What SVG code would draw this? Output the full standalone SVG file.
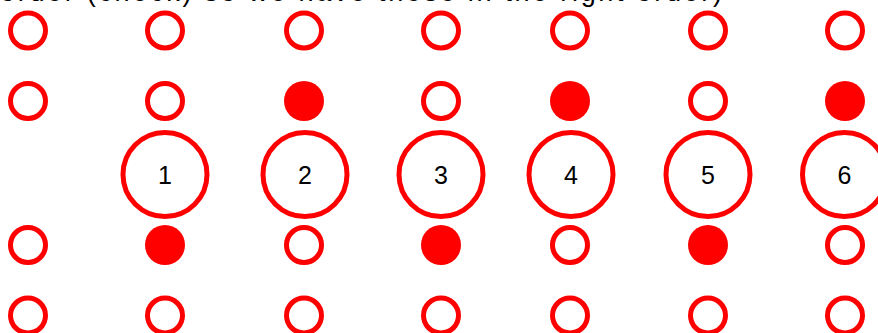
<svg xmlns="http://www.w3.org/2000/svg" width="878" height="333" viewBox="0 0 878 333">
<style>
.o{fill:#fff;stroke:#ff0000;stroke-width:5}
.f{fill:#ff0000}
.b{fill:#fff;stroke:#ff0000;stroke-width:5}
.n{font-family:"Liberation Sans",Arial,sans-serif;font-size:25px;fill:#000;text-anchor:middle}
.h{font-family:"Liberation Sans",Arial,sans-serif;font-size:27px;fill:#000}
</style>
<rect width="878" height="333" fill="#fff"/>
<text class="h" x="0" y="1" textLength="722" lengthAdjust="spacing">order (check) so we have these in the right order)</text>
<g id="row1">
<circle class="o" cx="28" cy="30.5" r="17.5"/>
<circle class="o" cx="165" cy="30.5" r="17.5"/>
<circle class="o" cx="304" cy="30.5" r="17.5"/>
<circle class="o" cx="441" cy="30.5" r="17.5"/>
<circle class="o" cx="570" cy="30.5" r="17.5"/>
<circle class="o" cx="708" cy="30.5" r="17.5"/>
<circle class="o" cx="845" cy="30.5" r="17.5"/>
</g>
<g id="row2">
<circle class="o" cx="28" cy="101" r="17.5"/>
<circle class="o" cx="165" cy="101" r="17.5"/>
<circle class="f" cx="304" cy="101" r="20"/>
<circle class="o" cx="441" cy="101" r="17.5"/>
<circle class="f" cx="570" cy="101" r="20"/>
<circle class="o" cx="708" cy="101" r="17.5"/>
<circle class="f" cx="845" cy="101" r="20"/>
</g>
<g id="node1"><circle class="b" cx="165" cy="174.5" r="42"/><text class="n" x="165" y="183.5">1</text></g>
<g id="node2"><circle class="b" cx="305" cy="174.5" r="42"/><text class="n" x="305" y="183.5">2</text></g>
<g id="node3"><circle class="b" cx="441" cy="174.5" r="42"/><text class="n" x="441" y="183.5">3</text></g>
<g id="node4"><circle class="b" cx="571" cy="174.5" r="42"/><text class="n" x="571" y="183.5">4</text></g>
<g id="node5"><circle class="b" cx="708" cy="174.5" r="42"/><text class="n" x="708" y="183.5">5</text></g>
<g id="node6"><circle class="b" cx="844.5" cy="174.5" r="42"/><text class="n" x="844.5" y="183.5">6</text></g>
<g id="row4">
<circle class="o" cx="28" cy="245" r="17.5"/>
<circle class="f" cx="165" cy="245" r="20"/>
<circle class="o" cx="304" cy="245" r="17.5"/>
<circle class="f" cx="441" cy="245" r="20"/>
<circle class="o" cx="570" cy="245" r="17.5"/>
<circle class="f" cx="708" cy="245" r="20"/>
<circle class="o" cx="845" cy="245" r="17.5"/>
</g>
<g id="row5">
<circle class="o" cx="28" cy="315.5" r="17.5"/>
<circle class="o" cx="165" cy="315.5" r="17.5"/>
<circle class="o" cx="304" cy="315.5" r="17.5"/>
<circle class="o" cx="441" cy="315.5" r="17.5"/>
<circle class="o" cx="570" cy="315.5" r="17.5"/>
<circle class="o" cx="708" cy="315.5" r="17.5"/>
<circle class="o" cx="845" cy="315.5" r="17.5"/>
</g>
<g id="connectors"/>
</svg>
